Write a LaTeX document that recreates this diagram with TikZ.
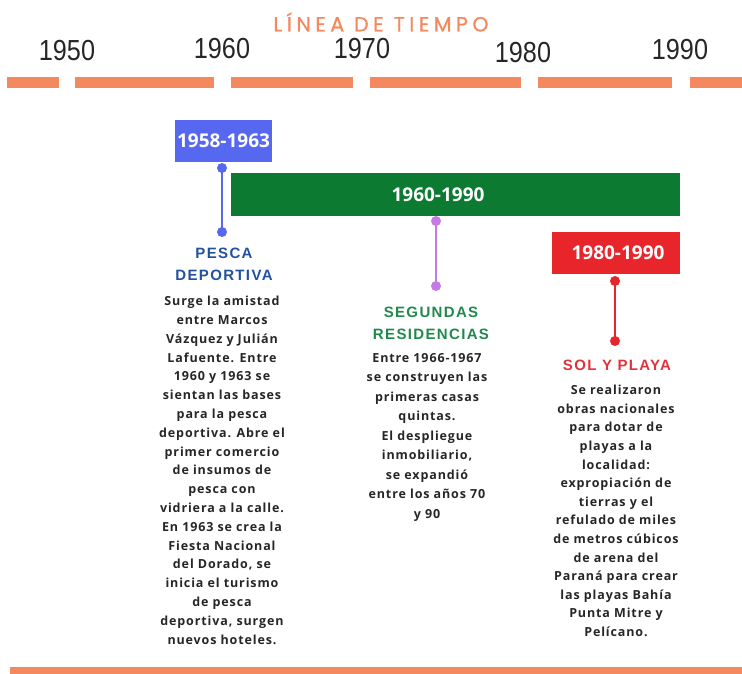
\documentclass[tikz,border=0pt]{standalone}
\usepackage{fontspec}
\setmainfont{Open Sans}
\newfontfamily\titlefont[LetterSpace=22,FakeBold=1]{Poppins}
\newfontfamily\yearfont[FakeStretch=0.87]{Liberation Sans}
\newfontfamily\headfont[LetterSpace=9]{Liberation Sans}
\newfontfamily\bodyfont[LetterSpace=7]{Open Sans}

\definecolor{tlorange}{HTML}{F4895F}
\definecolor{tlblue}{HTML}{5668F0}
\definecolor{tlgreen}{HTML}{0C7A31}
\definecolor{tlpurple}{HTML}{C57AE4}
\definecolor{tlred}{HTML}{E8252B}
\definecolor{headblue}{HTML}{22529E}
\definecolor{headgreen}{HTML}{22894D}
\definecolor{headred}{HTML}{E1333A}
\definecolor{bodygray}{HTML}{262626}

\begin{document}
\begin{tikzpicture}[x=1pt,y=-1pt,
    yearlbl/.style={font=\yearfont\fontsize{29}{29}\selectfont, text=black!85, inner sep=0},
    period/.style={font=\bfseries\fontsize{19}{19}\selectfont, text=white, inner sep=0},
    heading/.style={font=\headfont\bfseries\fontsize{15}{22}\selectfont, align=center, inner sep=0},
    body/.style={font=\bodyfont\bfseries\fontsize{12.5}{18.8}\selectfont, align=center, text=bodygray, inner sep=0},
    stem/.style={line width=2.2pt}]
    \useasboundingbox (0,0) rectangle (742,674);

    % title and years
    \node[font=\titlefont\fontsize{20.5}{20.5}\selectfont, text=tlorange] (title) at (381,22) {LÍNEA DE TIEMPO};
    \node[yearlbl] (y1950) at (67,51) {1950};
    \node[yearlbl] (y1960) at (222,49) {1960};
    \node[yearlbl] (y1970) at (362,49) {1970};
    \node[yearlbl] (y1980) at (523,53) {1980};
    \node[yearlbl] (y1990) at (680,50) {1990};

    % dashed time axis
    \foreach \a/\b in {7/59, 75/214, 231/353, 370/521, 538/672, 690/742}
        \fill[tlorange] (\a,77) rectangle (\b,88);

    % periods
    \fill[tlblue] (175,120) rectangle (272,162);
    \node[period] (p1) at (223.5,141) {1958-1963};
    \fill[tlgreen] (231,173) rectangle (680,216);
    \node[period] (p2) at (438,195) {1960-1990};
    \fill[tlred] (552,232) rectangle (680,274);
    \node[period] (p3) at (618,253) {1980-1990};

    % stems
    \coordinate (A1) at (222,168);
    \coordinate (A2) at (222,232);
    \coordinate (B1) at (436,221);
    \coordinate (B2) at (436,286);
    \coordinate (C1) at (615,281);
    \coordinate (C2) at (615,341);
    \draw[tlblue, stem] (A1) -- (A2);
    \fill[tlblue] (A1) circle (5) (A2) circle (5);
    \draw[tlpurple, stem] (B1) -- (B2);
    \fill[tlpurple] (B1) circle (5) (B2) circle (5);
    \draw[tlred, stem] (C1) -- (C2);
    \fill[tlred] (C1) circle (5) (C2) circle (5);

    % headings
    \node[heading, text=headblue] (h1) at (224,264) {PESCA\\DEPORTIVA};
    \node[heading, text=headgreen] (h2) at (431,323) {SEGUNDAS\\RESIDENCIAS};
    \node[heading, text=headred] (h3) at (617,365) {SOL Y PLAYA};

    % texts
    \node[body, anchor=north] (t1) at (222,296) {Surge la amistad\\entre Marcos\\Vázquez y Julián\\Lafuente. Entre\\1960 y 1963 se\\sientan las bases\\para la pesca\\deportiva. Abre el\\primer comercio\\de insumos de\\pesca con\\vidriera a la calle.\\En 1963 se crea la\\Fiesta Nacional\\del Dorado, se\\inicia el turismo\\de pesca\\deportiva, surgen\\nuevos hoteles.};
    \node[body, anchor=north, font=\bodyfont\bfseries\fontsize{12.5}{19.5}\selectfont] (t2) at (427,353) {Entre 1966-1967\\se construyen las\\primeras casas\\quintas.\\El despliegue\\inmobiliario,\\se expandió\\entre los años 70\\y 90};
    \node[body, anchor=north, font=\bodyfont\bfseries\fontsize{12.5}{18.6}\selectfont] (t3) at (616,385) {Se realizaron\\obras nacionales\\para dotar de\\playas a la\\localidad:\\expropiación de\\tierras y el\\refulado de miles\\de metros cúbicos\\de arena del\\Paraná para crear\\las playas Bahía\\Punta Mitre y\\Pelícano.};

    % bottom line
    \fill[tlorange] (10,667) rectangle (742,674);
\end{tikzpicture}
\end{document}
